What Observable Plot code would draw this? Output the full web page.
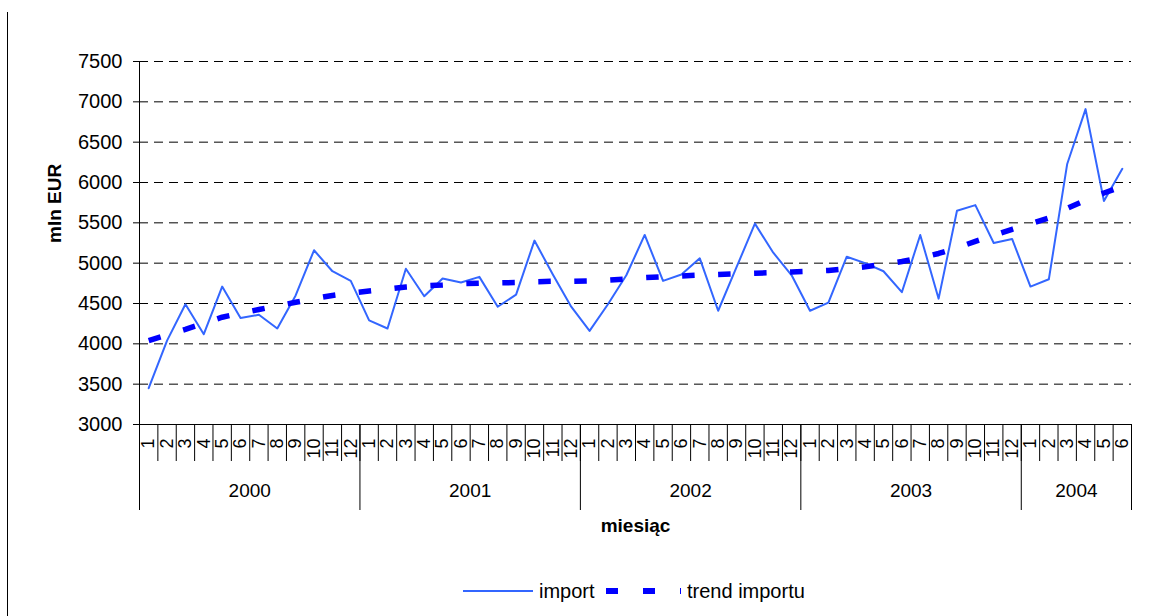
<!DOCTYPE html>
<html>
<head>
<meta charset="utf-8">
<script src="https://cdn.jsdelivr.net/npm/d3@7"></script>
<script src="https://cdn.jsdelivr.net/npm/@observablehq/plot@0.6"></script>
<style>
  body { margin: 0; background: #fff; font-family: "Liberation Sans", Arial, sans-serif; }
  #wrap { position: relative; width: 1151px; height: 616px; overflow: hidden; background: #fff; }
  #chart { position: absolute; left: 0; top: 0; }
  #frame { position: absolute; left: 7px; top: 12px; width: 1px; height: 610px; background: #000; }
  #legend { position: absolute; left: 0; top: 572px; }
</style>
</head>
<body>
<div id="wrap">
  <div id="chart"></div>
  <div id="frame"></div>
  <div id="legend"></div>
</div>
<script>
// ---- data ----
const years = ["2000", "2001", "2002", "2003", "2004"];
const monthLabels = ["1","2","3","4","5","6","7","8","9","10","11","12"];
const monthsPerYear = [12, 12, 12, 12, 6];
const importValues = [
  3450, 4040, 4490, 4120, 4710, 4320, 4360, 4190, 4600, 5160, 4900, 4780,
  4290, 4190, 4930, 4590, 4810, 4760, 4830, 4460, 4610, 5280, 4860, 4460,
  4160, 4490, 4850, 5350, 4780, 4860, 5060, 4410, 4950, 5490, 5130, 4850,
  4410, 4510, 5080, 5000, 4900, 4640, 5350, 4560, 5650, 5720, 5250, 5300,
  4710, 4800, 6230, 6910, 5770, 6170
];
const trendValues = [
  4040, 4110, 4180, 4255, 4330, 4380, 4425, 4470, 4515, 4560, 4600, 4630,
  4655, 4680, 4705, 4720, 4730, 4745, 4752, 4755, 4760, 4770, 4775, 4775,
  4780, 4790, 4805, 4820, 4832, 4842, 4852, 4860, 4868, 4875, 4883, 4892,
  4900, 4910, 4930, 4955, 4985, 5020, 5065, 5120, 5190, 5270, 5345, 5420,
  5490, 5560, 5680, 5780, 5870, 5950
];
const yTicks = [3000, 3500, 4000, 4500, 5000, 5500, 6000, 6500, 7000, 7500];
const seriesNames = ["import", "trend importu"];

// ---- derived tables ----
const rows = [];
monthsPerYear.forEach((n, yi) => {
  for (let m = 0; m < n; m++) rows.push({year: years[yi], month: monthLabels[m]});
});
rows.forEach((r, i) => { r.i = i; r.import = importValues[i]; r.trend = trendValues[i]; });
const N = rows.length;
const yearStarts = [];
{ let s = 0; monthsPerYear.forEach(n => { yearStarts.push(s); s += n; }); yearStarts.push(s); }
const yearCenters = years.map((y, k) => ({pos: (yearStarts[k] + yearStarts[k + 1]) / 2, label: y}));

const FONT = "'Liberation Sans', Arial, sans-serif";

const chart = Plot.plot({
  width: 1151,
  height: 616,
  marginLeft: 139,
  marginRight: 20,
  marginTop: 61,
  marginBottom: 192,
  style: {fontFamily: FONT, fontSize: "20px", color: "#000", background: "transparent", overflow: "visible"},
  x: {domain: [0, N], label: null},
  y: {domain: [3000, 7500], label: null},
  marks: [
    // gridlines
    Plot.ruleY(yTicks.slice(1), {stroke: "#000", strokeWidth: 1, strokeDasharray: "9,6"}),
    // y axis
    Plot.axisY(yTicks, {tickSize: 6, tickPadding: 11, fontSize: 20, label: null, tickFormat: d => String(d)}),
    Plot.ruleX([0], {y1: 3000, y2: 7500, stroke: "#000"}),
    // x axis line
    Plot.ruleY([3000], {stroke: "#000"}),
    // month dividers
    Plot.axisX(d3.range(N + 1), {tickSize: 37, tickFormat: () => "", label: null}),
    // year dividers
    Plot.axisX(yearStarts, {tickSize: 86, tickFormat: () => "", label: null}),
    // month labels
    Plot.axisX(rows.map(r => r.i + 0.5), {
      tickSize: 0, tickPadding: 14, tickRotate: -90, fontSize: 18, label: null,
      tickFormat: d => rows[Math.floor(d)].month
    }),
    // year labels
    Plot.axisX(yearCenters.map(d => d.pos), {
      tickSize: 0, tickPadding: 59, fontSize: 19, label: null,
      tickFormat: d => yearCenters.find(c => c.pos === d).label
    }),
    // axis titles
    Plot.text(["mln EUR"], {frameAnchor: "left", dx: -85, rotate: -90, fontWeight: "bold", fontSize: 19, text: d => d}),
    Plot.text(["miesiąc"], {frameAnchor: "bottom", dy: 107, fontWeight: "bold", fontSize: 19, text: d => d}),
    // series
    Plot.line(rows, {x: d => d.i + 0.5, y: "import", stroke: "#3366ff", strokeWidth: 2}),
    Plot.line(rows, {x: d => d.i + 0.5, y: "trend", stroke: "#0000ff", strokeWidth: 5.5, strokeDasharray: "12.5,23.5", strokeLinecap: "butt", strokeLinejoin: "miter"})
  ]
});
document.getElementById("chart").appendChild(chart);

// legend
const leg = d3.select("#legend").append("svg").attr("width", 1151).attr("height", 40)
  .style("font-family", FONT).style("font-size", "20px");
leg.append("line").attr("x1", 463).attr("x2", 533).attr("y1", 19).attr("y2", 19)
  .attr("stroke", "#3366ff").attr("stroke-width", 2);
leg.append("text").attr("x", 539).attr("y", 26).text(seriesNames[0]);
leg.append("line").attr("x1", 606).attr("x2", 681).attr("y1", 19).attr("y2", 19)
  .attr("stroke", "#0000ff").attr("stroke-width", 6).attr("stroke-dasharray", "12,25");
leg.append("text").attr("x", 687).attr("y", 26).text(seriesNames[1]);
</script>
</body>
</html>
